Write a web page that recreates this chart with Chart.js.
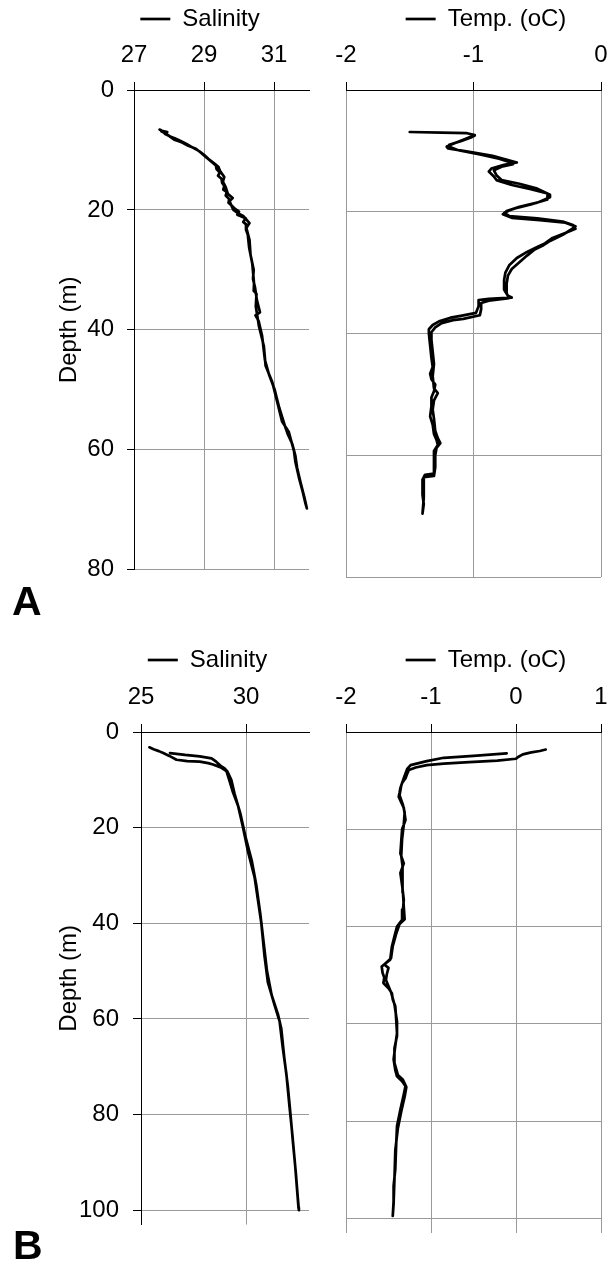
<!DOCTYPE html>
<html>
<head>
<meta charset="utf-8">
<script src="https://cdn.jsdelivr.net/npm/chart.js@4.4.1/dist/chart.umd.min.js"></script>
<style>
html,body{margin:0;padding:0;background:#fff;}
body{width:609px;height:1266px;overflow:hidden;position:relative;font-family:'Liberation Sans',Arial,sans-serif;}
canvas{position:absolute;}
.tag{position:absolute;font-family:'Liberation Sans',Arial,sans-serif;font-weight:bold;font-size:41px;line-height:41px;color:#000;}
</style>
</head>
<body>
<canvas id="salA" width="400" height="597" style="left:0px;top:0px"></canvas>
<canvas id="tmpA" width="332" height="597" style="left:320px;top:0px"></canvas>
<canvas id="salB" width="415" height="633" style="left:0px;top:620px"></canvas>
<canvas id="tmpB" width="332" height="633" style="left:320px;top:620px"></canvas>
<div class="tag" style="left:12px;top:581px">A</div>
<div class="tag" style="left:13px;top:1225px">B</div>
<script>
// ---- DATA (depth m, value) : down cast followed by up cast ----
const salinityA = [
[6.6,27.73],[6.8,27.80],[7.0,27.95],[7.3,27.88],[7.7,28.01],[8.3,28.15],[8.6,28.30],[8.8,28.39],[9.3,28.55],[9.8,28.77],
[10.5,28.92],[11.2,29.06],[11.8,29.18],[12.6,29.34],[13.2,29.36],[13.8,29.45],[14.3,29.40],[14.8,29.50],[15.5,29.52],[16.0,29.58],
[16.6,29.55],[17.0,29.65],[17.6,29.62],[18.2,29.72],[18.8,29.70],[19.2,29.78],[19.8,29.88],[20.3,30.00],[20.8,29.95],[21.4,30.19],
[22.0,30.12],[22.5,30.22],[23.3,30.20],[24.1,30.25],[26.3,30.29],[29.0,30.38],[32.3,30.43],[33.5,30.42],[34.0,30.50],[36.1,30.48],
[39.4,30.57],[42.7,30.71],[46.0,30.76],[48.7,30.95],[52.0,31.09],[55.3,31.23],[57.0,31.42],[60.2,31.57],[62.0,31.61],[64.6,31.71],
[67.0,31.82],[69.0,31.90],[69.8,31.94],
[68.0,31.87],[65.5,31.76],[63.0,31.66],[61.0,31.61],[59.0,31.52],[57.5,31.40],[56.0,31.31],[53.0,31.15],[50.0,31.02],[47.5,30.86],
[45.0,30.74],[41.0,30.66],[38.5,30.56],[37.6,30.47],[37.1,30.60],[35.0,30.51],[33.0,30.46],[31.5,30.40],[30.0,30.42],[27.5,30.33],
[25.0,30.30],[23.0,30.21],[22.2,30.30],[21.0,30.12],[20.6,29.98],[20.0,29.84],[19.5,29.80],[18.5,29.73],[18.0,29.82],[17.3,29.68],
[16.2,29.62],[15.3,29.54],[14.5,29.58],[13.5,29.46],[12.8,29.41],[12.2,29.28],[11.5,29.13],[10.8,29.00],[10.2,28.86],[9.6,28.68],
[9.0,28.50],[8.5,28.33],[8.1,28.18],[7.8,28.05],[7.3,27.92],[6.9,27.78]
];
const temperatureA = [
[6.9,-1.50],[7.0,-1.25],[7.1,-1.05],[7.4,-0.99],[8.0,-1.06],[8.6,-1.13],[9.3,-1.21],[9.6,-1.20],[10.2,-1.02],[10.8,-0.85],
[11.2,-0.78],[11.9,-0.66],[12.3,-0.76],[12.9,-0.86],[13.4,-0.88],[14.2,-0.84],[14.8,-0.82],[15.6,-0.70],[16.3,-0.55],[17.0,-0.42],
[18.0,-0.42],[18.8,-0.55],[19.6,-0.70],[20.2,-0.76],[20.7,-0.72],[21.1,-0.50],[21.6,-0.30],[22.2,-0.22],[22.8,-0.20],[23.4,-0.27],
[24.3,-0.38],[25.2,-0.44],[25.8,-0.50],[26.6,-0.58],[27.6,-0.66],[28.8,-0.72],[30.0,-0.75],[31.2,-0.76],[32.8,-0.76],[33.8,-0.73],
[34.1,-0.70],[34.3,-0.88],[34.5,-0.96],[35.5,-0.96],[36.6,-0.98],[37.1,-1.10],[37.4,-1.18],[38.0,-1.27],[38.6,-1.32],[39.3,-1.35],
[40.0,-1.35],[42.0,-1.34],[44.0,-1.33],[45.5,-1.32],[46.6,-1.34],[47.5,-1.33],[48.4,-1.30],[49.5,-1.31],[50.5,-1.33],[52.0,-1.33],
[53.6,-1.34],[55.0,-1.32],[56.5,-1.31],[57.5,-1.29],[58.3,-1.28],[59.3,-1.31],[60.5,-1.31],[62.0,-1.31],[63.0,-1.31],[63.2,-1.38],
[64.0,-1.40],[66.5,-1.40],[68.0,-1.39],[69.6,-1.40],
[67.0,-1.39],[64.5,-1.39],[63.6,-1.39],[63.4,-1.31],[62.0,-1.30],[60.0,-1.30],[58.8,-1.29],[58.0,-1.26],[57.2,-1.28],[56.0,-1.30],
[54.0,-1.31],[52.5,-1.32],[51.0,-1.31],[49.8,-1.28],[49.0,-1.31],[47.0,-1.32],[45.0,-1.31],[43.0,-1.32],[41.0,-1.33],[39.8,-1.33],
[39.0,-1.30],[38.3,-1.25],[37.8,-1.16],[37.6,-1.08],[37.0,-0.95],[36.0,-0.94],[35.0,-0.94],[34.6,-0.88],[34.2,-0.72],[33.4,-0.74],
[31.8,-0.74],[30.5,-0.73],[29.4,-0.70],[28.3,-0.64],[27.2,-0.58],[26.2,-0.52],[25.6,-0.46],[24.8,-0.40],[23.8,-0.30],[23.0,-0.24],
[22.4,-0.20],[21.8,-0.28],[21.4,-0.48],[21.0,-0.70],[20.4,-0.77],[19.9,-0.74],[19.2,-0.64],[18.5,-0.50],[17.6,-0.40],[17.2,-0.40],
[16.2,-0.50],[15.4,-0.64],[14.8,-0.78],[14.0,-0.82],[13.2,-0.84],[12.6,-0.78],[12.2,-0.69],[11.8,-0.72],[11.3,-0.80],[10.6,-0.95],
[9.9,-1.12],[9.4,-1.18],[9.0,-1.19],[8.4,-1.10],[7.8,-1.02],[7.5,-0.99]
];
const salinityB = [
[3.2,25.40],[3.6,25.60],[4.0,25.85],[4.4,26.06],[5.0,26.35],[5.8,26.69],[6.1,27.20],[6.2,27.80],[6.5,28.20],[6.8,28.43],
[7.4,28.80],[8.2,29.07],[10.0,29.20],[12.6,29.38],[15.4,29.62],[18.1,29.76],[20.0,29.86],[24.9,30.09],[30.4,30.41],[35.2,30.57],
[40.0,30.73],[46.8,30.88],[52.3,31.04],[57.1,31.36],[60.5,31.60],[66.0,31.75],[71.4,31.92],[78.3,32.07],[83.8,32.20],[90.6,32.34],
[99.5,32.50],[100.0,32.52],
[97.0,32.46],[92.0,32.37],[86.0,32.24],[80.0,32.12],[74.0,31.99],[68.0,31.82],[62.0,31.68],[59.0,31.52],[55.0,31.22],[50.0,31.00],
[44.0,30.84],[38.0,30.68],[32.0,30.49],[27.0,30.28],[22.0,29.98],[17.0,29.73],[13.0,29.46],[10.0,29.30],[8.3,29.12],[7.6,28.98],
[7.2,28.83],[6.2,28.58],[5.5,28.36],[5.1,27.80],[4.8,27.10],[4.4,26.38]
];
const temperatureB = [
[3.6,0.35],[3.9,0.28],[4.2,0.18],[4.6,0.08],[5.2,0.02],[5.5,0.00],[5.9,-0.22],[6.2,-0.55],[6.5,-0.85],[6.8,-1.05],
[7.3,-1.18],[7.8,-1.26],[8.6,-1.28],[9.5,-1.30],[10.5,-1.34],[11.5,-1.36],[12.5,-1.37],[13.3,-1.38],[14.5,-1.35],[15.6,-1.32],
[18.1,-1.30],[20.0,-1.34],[22.5,-1.35],[25.0,-1.36],[27.0,-1.32],[29.0,-1.36],[31.5,-1.34],[34.5,-1.32],[36.5,-1.33],[38.6,-1.34],
[40.0,-1.40],[42.0,-1.43],[44.1,-1.46],[46.8,-1.48],[48.2,-1.58],[49.5,-1.57],[50.5,-1.55],[51.6,-1.56],[52.7,-1.50],[53.7,-1.46],
[55.0,-1.45],[56.4,-1.42],[59.0,-1.41],[61.9,-1.40],[64.5,-1.42],[67.3,-1.44],[69.5,-1.42],[70.8,-1.40],[71.8,-1.34],[72.8,-1.30],
[74.5,-1.32],[77.6,-1.36],[81.0,-1.40],[85.0,-1.41],[89.9,-1.42],[93.3,-1.44],[96.5,-1.44],[99.5,-1.45],
[97.0,-1.44],[92.0,-1.43],[86.0,-1.42],[81.5,-1.39],[78.0,-1.35],[75.0,-1.31],[73.0,-1.29],[71.5,-1.33],[70.5,-1.39],[68.0,-1.43],
[65.0,-1.43],[62.5,-1.40],[59.5,-1.40],[56.0,-1.43],[53.5,-1.47],[51.0,-1.53],[49.8,-1.52],[48.5,-1.50],[47.8,-1.55],[46.5,-1.47],
[44.0,-1.45],[41.5,-1.41],[39.5,-1.37],[38.5,-1.31],[36.0,-1.32],[33.0,-1.33],[30.0,-1.34],[27.5,-1.33],[25.5,-1.35],[22.0,-1.34],
[19.0,-1.32],[16.5,-1.31],[15.0,-1.33],[13.0,-1.37],[11.0,-1.35],[9.0,-1.31],[7.6,-1.28],[6.8,-1.24],[6.0,-1.05],[5.3,-0.85],
[4.9,-0.50],[4.4,-0.11]
];
// ---- tick values / labels ----
const salinityA_ticks = [27, 29, 31];
const temperatureA_ticks = [-2, -1, 0];
const salinityB_ticks = [25, 30];
const temperatureB_ticks = [-2, -1, 0, 1];
const depthA_ticks = [0, 20, 40, 60, 80];
const depthB_ticks = [0, 20, 40, 60, 80, 100];
const seriesNames = ['Salinity', 'Temp. (oC)'];

const FONT = "'Liberation Sans', Arial, sans-serif";
const GRID = '#9a9a9a';

function profile(id, c) {
  const pts = c.data.map(p => ({x: p[1], y: p[0]}));
  return new Chart(document.getElementById(id), {
    type: 'scatter',
    data: { datasets: [{
      label: c.label, data: pts, showLine: true, tension: 0, fill: false,
      borderColor: '#000', backgroundColor: '#000', borderWidth: 2.7,
      borderJoinStyle: 'round', borderCapStyle: 'round',
      pointRadius: 0, pointHoverRadius: 0, pointBorderWidth: 2.7, pointBorderColor: '#000',
      xAxisID: 'x', yAxisID: 'y'
    }]},
    options: {
      responsive: false, animation: false, devicePixelRatio: 1, events: [],
      layout: { padding: { left: 0, right: 0, top: c.padT, bottom: 20 } },
      plugins: {
        legend: { display: true, position: 'top', align: 'center',
          labels: { usePointStyle: true, pointStyle: 'line', pointStyleWidth: 30, padding: 7,
                    color: '#000', font: { family: FONT, size: 24 } } },
        tooltip: { enabled: false }
      },
      scales: {
        x: { type: 'linear', position: 'top', min: c.xMin, max: c.xMax,
             afterBuildTicks: s => { s.ticks = c.xTicks.map(v => ({value: v})); },
             afterFit: s => { s.height = c.xH; },
             ticks: { color: '#000', font: { family: FONT, size: 24 }, padding: 12.5, maxRotation: 0, autoSkip: false,
                      callback: v => String(v) },
             grid: { color: GRID, lineWidth: 1, drawTicks: true, tickLength: 8, tickColor: '#000' },
             border: { display: true, color: '#000', width: 1 } },
        y: { type: 'linear', position: 'left', reverse: true, min: 0, max: c.dMax,
             afterBuildTicks: s => { s.ticks = c.dTicks.map(v => ({value: v})); },
             afterFit: s => { s.width = c.yW; },
             ticks: { display: c.showDepth, color: '#000', font: { family: FONT, size: 24 }, padding: c.yPad, autoSkip: false,
                      callback: v => String(v) },
             grid: { color: GRID, lineWidth: 1, drawTicks: c.showDepth, tickLength: c.yTick, tickColor: '#000' },
             border: { display: c.showDepth, color: '#000', width: 1 },
             title: { display: c.showDepth, text: 'Depth (m)', color: '#000', font: { family: FONT, size: 24 },
                      padding: { top: 55, bottom: 0 } } },
        pad: { type: 'linear', axis: 'y', position: 'right', display: true,
               ticks: { display: false }, grid: { display: false, drawTicks: false }, border: { display: false },
               afterFit: s => { s.width = c.rW; } }
      }
    }
  });
}

profile('salA', { label: seriesNames[0], data: salinityA, xMin: 27, xMax: 32, xTicks: salinityA_ticks,
  dMax: 80, dTicks: depthA_ticks, showDepth: true, padT: 0, xH: 49, yW: 134, rW: 91, yPad: 13, yTick: 7 });
profile('tmpA', { label: seriesNames[1], data: temperatureA, xMin: -2, xMax: 0, xTicks: temperatureA_ticks,
  dMax: 80, dTicks: depthA_ticks, showDepth: false, padT: 0, xH: 49, yW: 26, rW: 51, yPad: 0, yTick: 0 });
profile('salB', { label: seriesNames[0], data: salinityB, xMin: 25, xMax: 33, xTicks: salinityB_ticks,
  dMax: 103, dTicks: depthB_ticks, showDepth: true, padT: 21, xH: 50, yW: 141, rW: 106, yPad: 14, yTick: 8 });
profile('tmpB', { label: seriesNames[1], data: temperatureB, xMin: -2, xMax: 1, xTicks: temperatureB_ticks,
  dMax: 103, dTicks: depthB_ticks, showDepth: false, padT: 21, xH: 50, yW: 26, rW: 51, yPad: 0, yTick: 0 });
</script>
</body>
</html>
